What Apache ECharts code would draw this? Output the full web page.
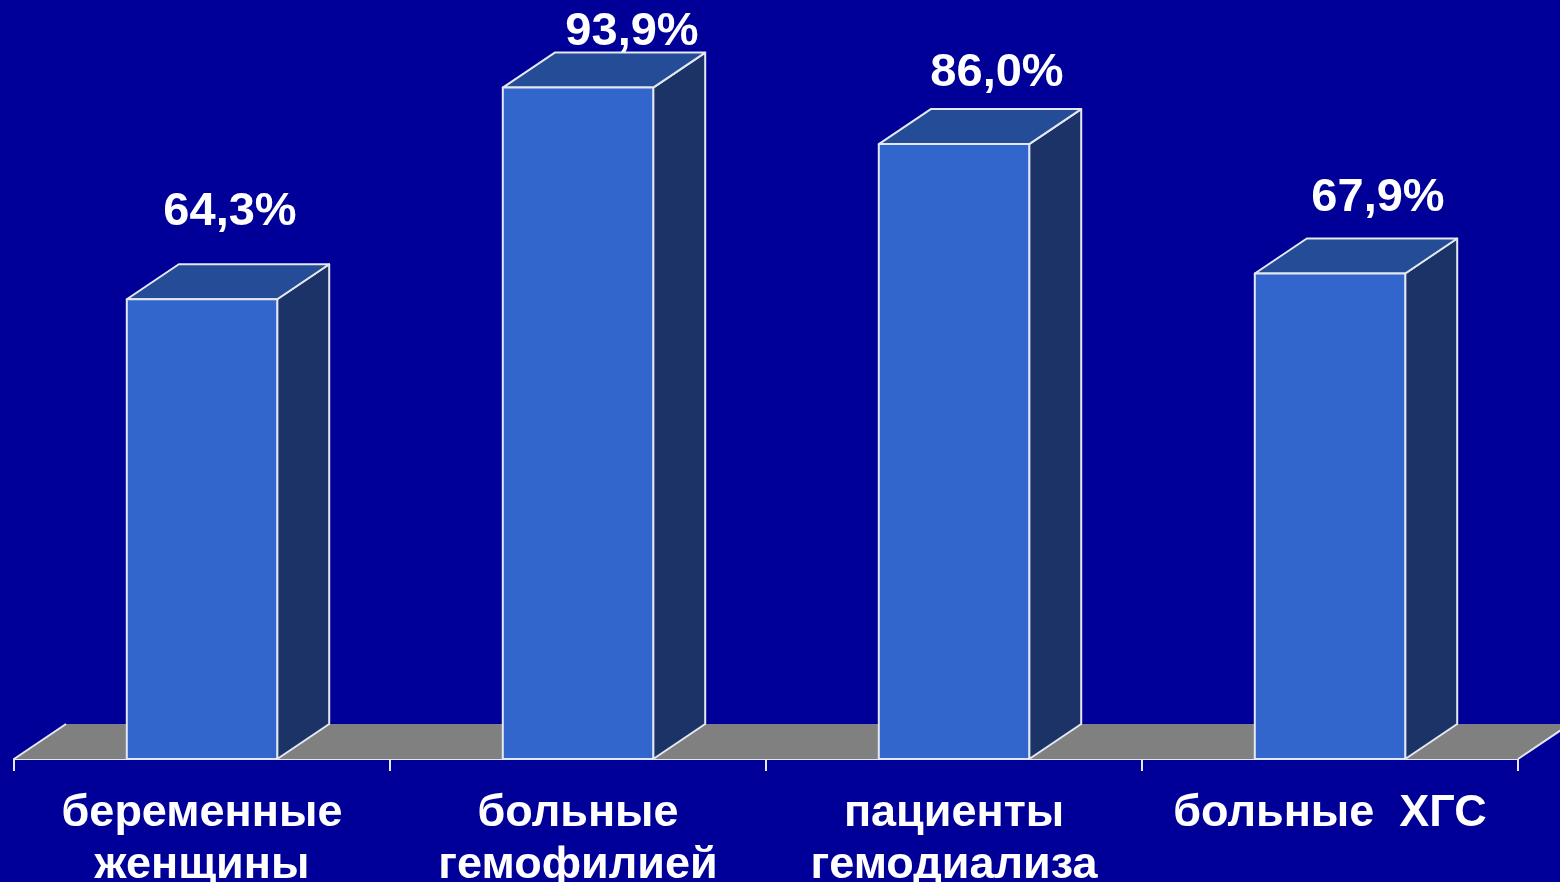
<!DOCTYPE html>
<html>
<head>
<meta charset="utf-8">
<script src="https://cdn.jsdelivr.net/npm/echarts@6/dist/echarts.min.js"></script>
<style>
  html, body { margin: 0; padding: 0; background: #000099; }
  #main { width: 1560px; height: 882px; }
</style>
</head>
<body>
<div id="main"></div>
<script>
const categories = ['беременные\nженщины', 'больные\nгемофилией', 'пациенты\nгемодиализа', 'больные  ХГС'];
const values = [64.3, 93.9, 86.0, 67.9];
const valueLabels = ['64,3%', '93,9%', '86,0%', '67,9%'];

// hand-placed label nudges of the original slide (x, y above back top)
const labelNudge = [[2, 52], [28, 21], [17, 36], [22, 40]];

const DX = 52, DY = 35;
const EDGE = '#e4e8f0';
const FONT = 'Liberation Sans, Arial, sans-serif';

const chart = echarts.init(document.getElementById('main'));

function renderFloor(params, api) {
  const c0 = api.coord([0, 0]);
  const bw = api.size([1, 0])[0];
  const left = c0[0] - bw / 2;
  const right = left + bw * categories.length;
  const y = c0[1];
  return {
    type: 'group',
    children: [
      {
        type: 'polygon',
        shape: { points: [[left, y], [right, y], [right + DX, y - DY], [left + DX, y - DY]] },
        style: { fill: '#808080' }
      },
      { type: 'line', shape: { x1: left, y1: y, x2: left + DX, y2: y - DY }, style: { stroke: EDGE, lineWidth: 2 } },
      { type: 'line', shape: { x1: right, y1: y, x2: right + DX, y2: y - DY }, style: { stroke: EDGE, lineWidth: 2 } }
    ]
  };
}

function renderBar(params, api) {
  const i = api.value(0);
  const base = api.coord([i, 0]);
  const top = api.coord([i, api.value(1)]);
  const w = api.size([1, 0])[0] * 0.4;
  const x0 = base[0] - w / 2, x1 = base[0] + w / 2;
  const yb = base[1], yt = top[1];
  const st = { stroke: EDGE, lineWidth: 2, lineJoin: 'round' };
  const nudge = labelNudge[params.dataIndex];
  return {
    type: 'group',
    children: [
      {
        type: 'polygon',
        shape: { points: [[x1, yt], [x1 + DX, yt - DY], [x1 + DX, yb - DY], [x1, yb]] },
        style: Object.assign({ fill: '#1b3366' }, st)
      },
      {
        type: 'polygon',
        shape: { points: [[x0, yt], [x1, yt], [x1 + DX, yt - DY], [x0 + DX, yt - DY]] },
        style: Object.assign({ fill: '#254c96' }, st)
      },
      {
        type: 'rect',
        shape: { x: x0, y: yt, width: w, height: yb - yt },
        style: Object.assign({ fill: '#3366cc' }, st)
      },
      {
        type: 'text',
        style: {
          text: valueLabels[params.dataIndex],
          x: base[0] + DX / 2 + nudge[0],
          y: yt - DY - nudge[1],
          fill: '#ffffff',
          font: 'bold 47px ' + FONT,
          align: 'center',
          verticalAlign: 'middle'
        }
      }
    ]
  };
}

const option = {
  backgroundColor: '#000099',
  animation: false,
  grid: { left: 14, right: 42, top: 44, bottom: 123, containLabel: false, outerBoundsMode: 'none' },
  xAxis: {
    type: 'category',
    data: categories,
    axisLine: { lineStyle: { color: EDGE, width: 2 } },
    axisTick: { show: true, length: 12, lineStyle: { color: EDGE, width: 2 } },
    axisLabel: {
      color: '#ffffff',
      fontSize: 45,
      fontWeight: 'bold',
      fontFamily: FONT,
      lineHeight: 52,
      margin: 29,
      interval: 0
    }
  },
  yAxis: { type: 'value', min: 0, max: 100, show: false, splitLine: { show: false } },
  series: [
    {
      type: 'custom',
      z: 1,
      renderItem: renderFloor,
      data: [[0, 0]],
      encode: { x: 0, y: 1 },
      silent: true
    },
    {
      type: 'custom',
      z: 2,
      renderItem: renderBar,
      data: values.map((v, i) => [i, v]),
      encode: { x: 0, y: 1 },
      silent: true
    }
  ]
};

chart.setOption(option);
</script>
</body>
</html>
